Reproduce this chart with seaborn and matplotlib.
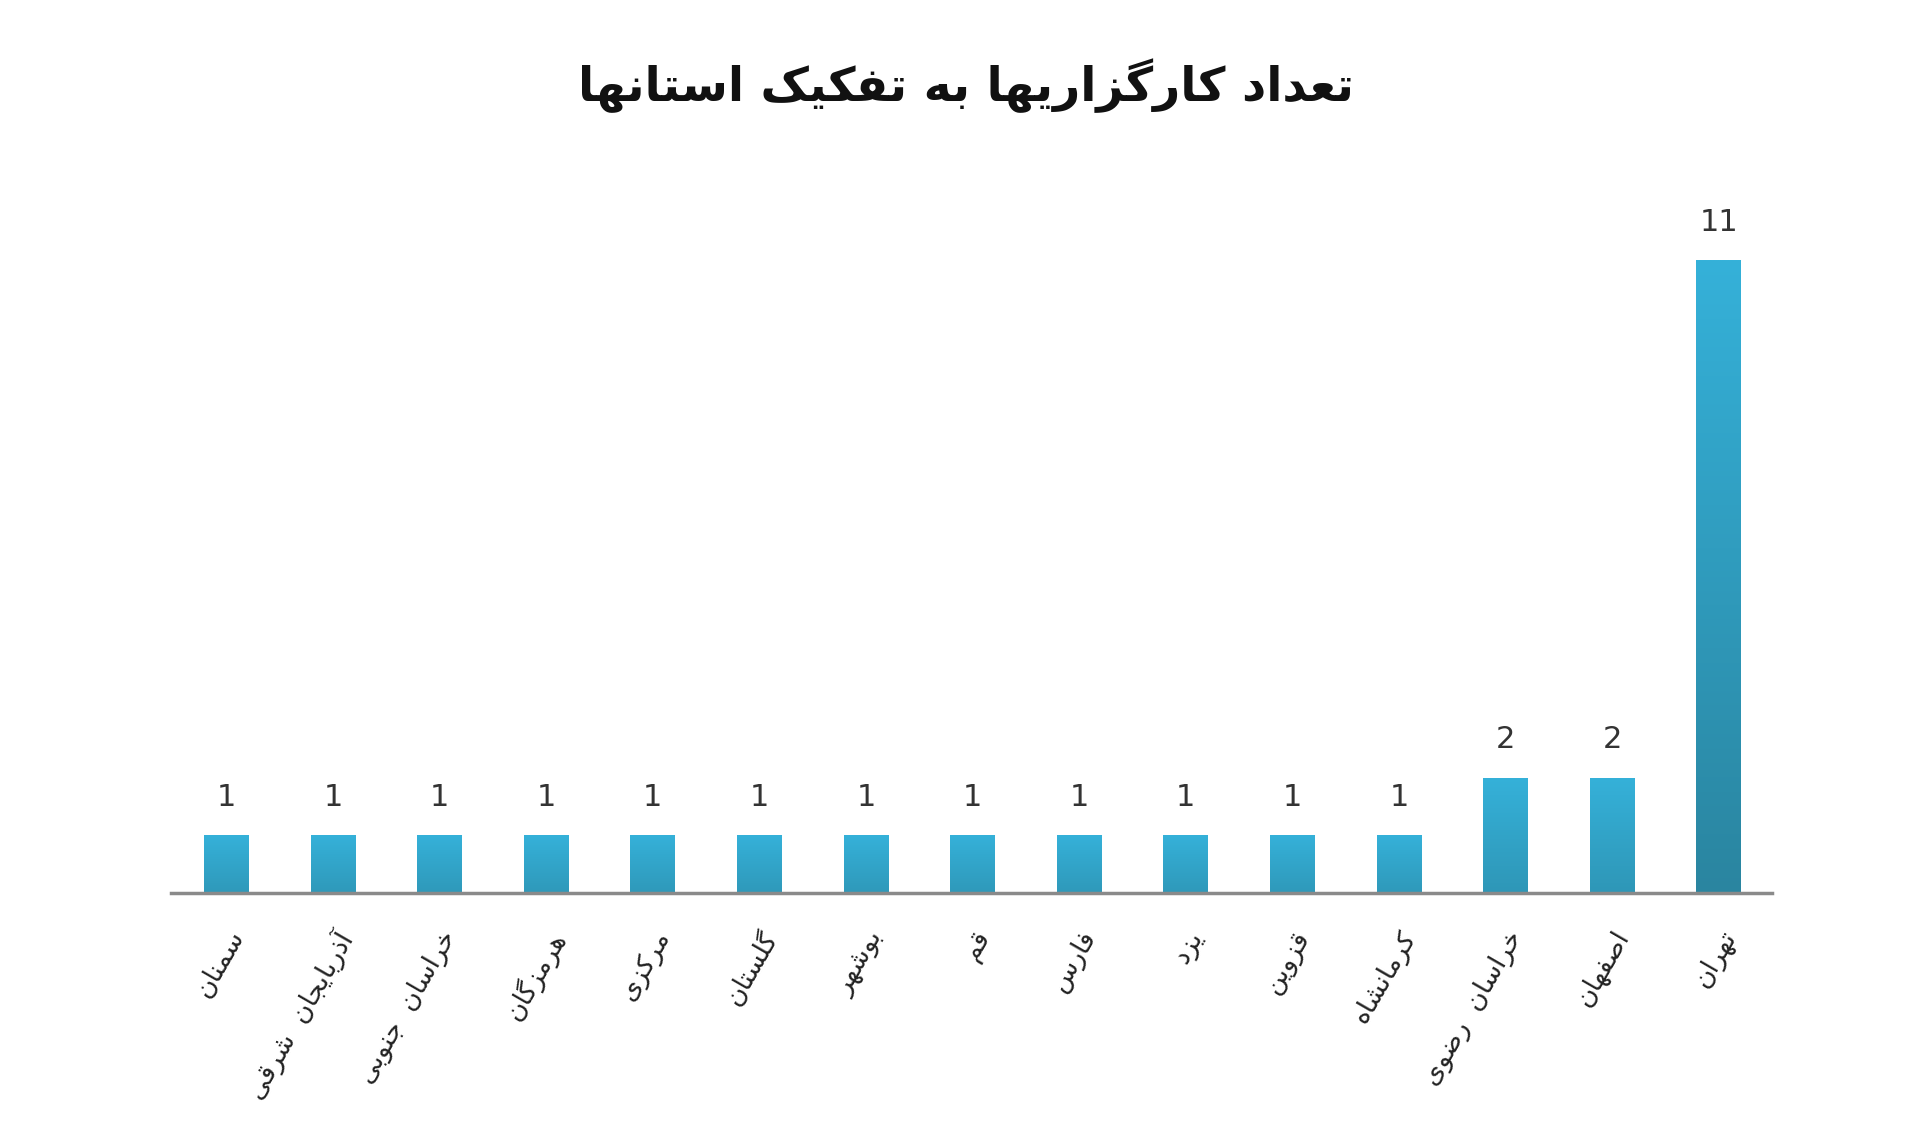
import numpy as np
import matplotlib
matplotlib.use("Agg")
import matplotlib.pyplot as plt
import seaborn as sns
from matplotlib.colors import LinearSegmentedColormap

# --- data ---
title_fa = "تعداد کارگزاریها به تفکیک استانها"
provinces = [
    "سمنان", "آذربایجان  شرقی", "خراسان  جنوبی", "هرمزگان", "مرکزی",
    "گلستان", "بوشهر", "قم", "فارس", "یزد", "قزوین", "کرمانشاه",
    "خراسان  رضوی", "اصفهان", "تهران",
]
counts = [1, 1, 1, 1, 1, 1, 1, 1, 1, 1, 1, 1, 2, 2, 11]

# matplotlib has no arabic shaping -> map letters to presentation forms
# (isolated, final, initial, medial)
FORMS = {
    "ا": ("\uFE8D", "\uFE8E", None, None),
    "آ": ("\uFE81", "\uFE82", None, None),
    "ب": ("\uFE8F", "\uFE90", "\uFE91", "\uFE92"),
    "ت": ("\uFE95", "\uFE96", "\uFE97", "\uFE98"),
    "ج": ("\uFE9D", "\uFE9E", "\uFE9F", "\uFEA0"),
    "خ": ("\uFEA5", "\uFEA6", "\uFEA7", "\uFEA8"),
    "د": ("\uFEA9", "\uFEAA", None, None),
    "ذ": ("\uFEAB", "\uFEAC", None, None),
    "ر": ("\uFEAD", "\uFEAE", None, None),
    "ز": ("\uFEAF", "\uFEB0", None, None),
    "س": ("\uFEB1", "\uFEB2", "\uFEB3", "\uFEB4"),
    "ش": ("\uFEB5", "\uFEB6", "\uFEB7", "\uFEB8"),
    "ص": ("\uFEB9", "\uFEBA", "\uFEBB", "\uFEBC"),
    "ض": ("\uFEBD", "\uFEBE", "\uFEBF", "\uFEC0"),
    "ع": ("\uFEC9", "\uFECA", "\uFECB", "\uFECC"),
    "ف": ("\uFED1", "\uFED2", "\uFED3", "\uFED4"),
    "ق": ("\uFED5", "\uFED6", "\uFED7", "\uFED8"),
    "ل": ("\uFEDD", "\uFEDE", "\uFEDF", "\uFEE0"),
    "م": ("\uFEE1", "\uFEE2", "\uFEE3", "\uFEE4"),
    "ن": ("\uFEE5", "\uFEE6", "\uFEE7", "\uFEE8"),
    "ه": ("\uFEE9", "\uFEEA", "\uFEEB", "\uFEEC"),
    "و": ("\uFEED", "\uFEEE", None, None),
    "ی": ("\uFBFC", "\uFBFD", "\uFBFE", "\uFBFF"),
    "ک": ("\uFB8E", "\uFB8F", "\uFB90", "\uFB91"),
    "گ": ("\uFB92", "\uFB93", "\uFB94", "\uFB95"),
}


def fa(s):
    out = []
    for i, c in enumerate(s):
        f = FORMS.get(c)
        if f is None:
            out.append(c)
            continue
        prev = s[i - 1] if i > 0 else None
        nxt = s[i + 1] if i + 1 < len(s) else None
        jp = prev in FORMS and FORMS[prev][2] is not None
        jn = nxt in FORMS and f[2] is not None
        if jp and jn:
            out.append(f[3])
        elif jp:
            out.append(f[1])
        elif jn:
            out.append(f[2])
        else:
            out.append(f[0])
    return "".join(reversed(out))


labels = [fa(p) for p in provinces]

sns.set_style("white")
plt.rcParams["font.family"] = ["DejaVu Sans"]

fig = plt.figure(figsize=(19.2, 11.37), dpi=100)
ax = fig.add_axes([0.089, 0.2146, 0.834, 0.607])

sns.barplot(x=labels, y=counts, color="#33aed6", width=0.42, ax=ax,
            saturation=1)

# vertical gradient on each bar: light on top, darker at the base
cmap = LinearSegmentedColormap.from_list("g", ["#2a85a0", "#35b1d9"])
grad = np.linspace(0, 1, 256).reshape(-1, 1)
for p in ax.patches:
    x0, y0 = p.get_x(), p.get_y()
    w, h = p.get_width(), p.get_height()
    lo = max(0.0, 0.45 - (h - 1) * 0.045)
    im = ax.imshow(lo + grad * (1 - lo), extent=[x0, x0 + w, y0, y0 + h],
                   origin="lower", aspect="auto", cmap=cmap, vmin=0, vmax=1,
                   zorder=2)
    im.set_clip_path(p)

ax.bar_label(ax.containers[0], labels=[str(c) for c in counts], padding=17,
             fontsize=22, color="#333333")

ax.set_xlim(-0.52, 14.5)
ax.set_ylim(0, 12)
ax.set_yticks([])
for s in ["top", "right", "left"]:
    ax.spines[s].set_visible(False)
ax.spines["bottom"].set_color("#8a8a8a")
ax.spines["bottom"].set_linewidth(2.5)
ax.tick_params(axis="x", length=0, pad=24)
for t in ax.get_xticklabels():
    t.set_rotation(60)
    t.set_ha("right")
    t.set_va("top")
    t.set_rotation_mode("anchor")
    t.set_fontsize(19)
    t.set_color("#222222")
ax.set_xlabel("")

fig.text(0.503, 0.925, fa(title_fa), ha="center", va="center",
         fontsize=34, fontweight="bold", color="#111111")

fig.savefig("out.png", dpi=100, facecolor="white")
